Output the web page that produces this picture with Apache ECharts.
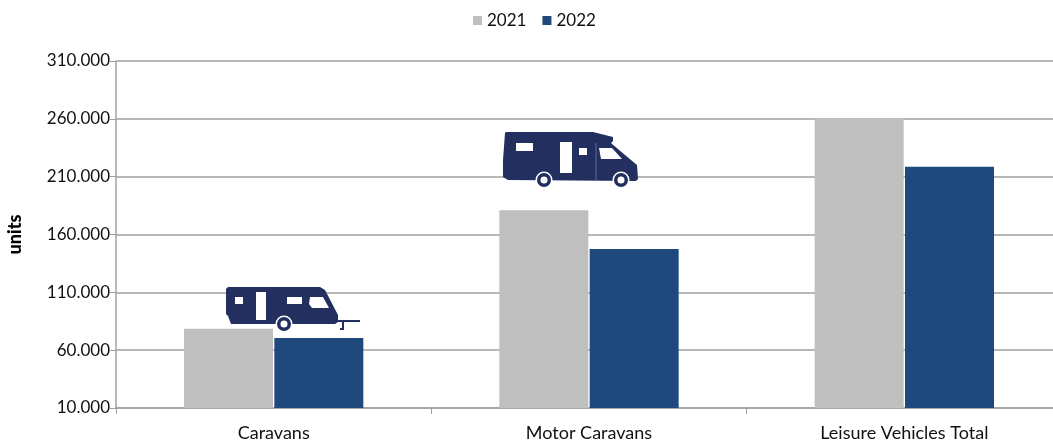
<!DOCTYPE html>
<html><head><meta charset="utf-8">
<style>html,body{margin:0;padding:0;background:#fff}#c{width:1053px;height:441px}</style>
<script src="https://cdn.jsdelivr.net/npm/echarts@6/dist/echarts.min.js"></script>
</head><body><div id="c"></div>
<script>
const categories = ['Caravans', 'Motor Caravans', 'Leisure Vehicles Total'];
const values2021 = [78500, 181000, 260500];
const values2022 = [70500, 147500, 218500];
const yTicks = [10000, 60000, 110000, 160000, 210000, 260000, 310000];

const NAVY = '#222f5f';
const fmt = v => String(v).replace(/\B(?=(\d{3})+$)/g, '.');
const txt = '#111', FONT = 'Lato, Carlito, sans-serif';

function poly(points, fill, opacity) {
  return { type: 'polygon', shape: { points }, style: { fill, opacity: opacity == null ? 1 : opacity }, z: 10 };
}
function circ(cx, cy, r, fill) {
  return { type: 'circle', shape: { cx, cy, r }, style: { fill }, z: 11 };
}
function wheel(cx, cy) {
  return [circ(cx, cy, 8.5, '#fff'), circ(cx, cy, 7, NAVY), circ(cx, cy, 3.5, '#fff')];
}
const caravanIcon = [
  poly([[228,287],[320,287],[325,290],[338,315],[338,322],[335,324],[231,324],[228,316],[226,314],[226,289]], NAVY),
  poly([[235,297],[243,297],[243,304],[235,304]], '#fff'),
  poly([[256,292],[266,292],[266,320],[256,320]], '#fff'),
  poly([[287,297],[302,297],[302,304],[287,304]], '#fff'),
  poly([[310,297],[323,297],[329,308],[312,308],[309,304]], '#fff'),
  poly([[338,320],[360,320],[360,322],[338,322]], NAVY),
  poly([[342,321],[344,321],[344,330],[340,330],[340,328],[342,328]], NAVY),
  ...wheel(284, 324)
];
const motorIcon = [
  poly([[506,132],[593,132],[613,137],[613,141],[611,143],[612,144],[625,155],[637,165],[638,179],[636,181],[508,180],[503,177],[503,160],[505,133]], NAVY),
  poly([[516,143],[533,143],[533,151],[516,151]], '#fff'),
  poly([[560,142],[572,142],[572,173],[560,173]], '#fff'),
  poly([[579,148],[587,148],[587,155],[579,155]], '#fff'),
  poly([[599,148],[612,148],[622,159],[601,159]], '#fff'),
  poly([[595.7,143],[596.3,143],[596.3,180],[595.7,180]], '#fff', 0.5),
  ...wheel(544, 180),
  ...wheel(621, 180)
];

const chart = echarts.init(document.getElementById('c'), null, { renderer: 'canvas' });
chart.setOption({
  animation: false,
  backgroundColor: '#fff',
  textStyle: { fontFamily: FONT },
  legend: {
    top: 7, left: 468, itemWidth: 9, itemHeight: 9, itemGap: 16, icon: 'rect',
    textStyle: { fontSize: 17, color: txt, fontFamily: FONT },
    data: ['2021', '2022']
  },
  grid: { left: 116, width: 946, top: 61, height: 347, outerBoundsMode: 'none' },
  xAxis: {
    type: 'category', data: categories,
    axisLine: { lineStyle: { color: '#a0a0a0', width: 1.5 } },
    axisTick: { show: true, length: 6, alignWithLabel: false, lineStyle: { color: '#a0a0a0' } },
    axisLabel: { fontSize: 18, color: txt, margin: 16, fontFamily: FONT }
  },
  yAxis: {
    type: 'value', min: 10000, max: 310000, interval: 50000,
    name: 'units', nameLocation: 'middle', nameGap: 92, nameRotate: 90,
    nameTextStyle: { fontSize: 18, fontWeight: 900, color: '#000', fontFamily: FONT },
    axisLine: { show: true, lineStyle: { color: '#a0a0a0', width: 1.5 } },
    axisTick: { show: true, length: 6, lineStyle: { color: '#a0a0a0' } },
    splitLine: { show: true, lineStyle: { color: '#a0a0a0', width: 1.5 } },
    axisLabel: { fontSize: 17, color: txt, margin: 6, fontFamily: FONT, formatter: v => fmt(v) }
  },
  series: [
    { name: '2021', type: 'bar', data: values2021, barWidth: 89, barGap: '1.5%', itemStyle: { color: '#bfbfbf' } },
    { name: '2022', type: 'bar', data: values2022, barWidth: 89, itemStyle: { color: '#1f497d' } }
  ],
  graphic: { elements: [...caravanIcon, ...motorIcon] }
});
</script></body></html>
